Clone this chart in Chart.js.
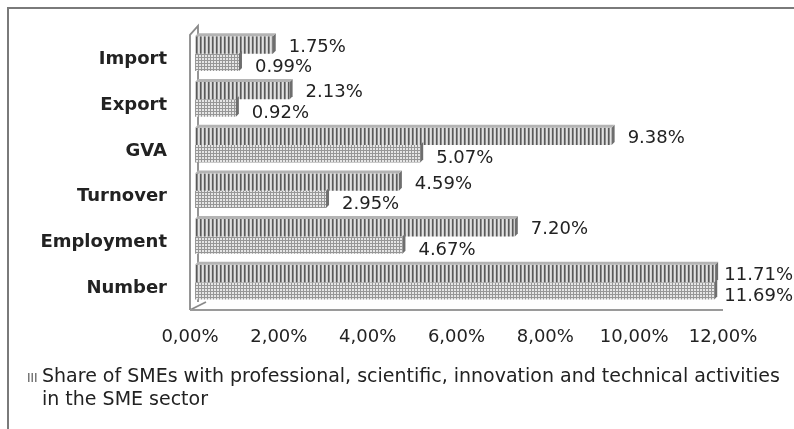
<!DOCTYPE html>
<html>
<head>
<meta charset="utf-8">
<script src="https://cdn.jsdelivr.net/npm/chart.js@4.4.1/dist/chart.umd.min.js"></script>
<style>
  html, body { margin: 0; padding: 0; background: #fff; }
</style>
</head>
<body>
<canvas id="sme" width="794" height="429"></canvas>
<script>
const categories = ['Import', 'Export', 'GVA', 'Turnover', 'Employment', 'Number'];
const shareTop = [1.75, 2.13, 9.38, 4.59, 7.20, 11.71];
const shareBottom = [0.99, 0.92, 5.07, 2.95, 4.67, 11.69];
const xTicks = [0, 2, 4, 6, 8, 10, 12];
const legendText = 'Share of SMEs with professional, scientific, innovation and technical activities in the SME sector';

const FONT = '"DejaVu Sans", "Liberation Sans", Arial, sans-serif';
const DEPTH = 3;

// striped / grid fills like the old excel 3d bars
function stripePattern() {
    const c = document.createElement('canvas');
    c.width = 4; c.height = 4;
    const g = c.getContext('2d');
    g.fillStyle = '#e2e2e2'; g.fillRect(0, 0, 4, 4);
    g.fillStyle = '#5a5a5a'; g.fillRect(0, 0, 1, 4);
    g.fillStyle = '#8c8c8c'; g.fillRect(1, 0, 1, 4);
    g.fillStyle = '#cfcfcf'; g.fillRect(3, 0, 1, 4);
    return g.createPattern(c, 'repeat');
}
function gridPattern() {
    const c = document.createElement('canvas');
    c.width = 3; c.height = 3;
    const g = c.getContext('2d');
    g.fillStyle = '#e6e6e6'; g.fillRect(0, 0, 3, 3);
    g.fillStyle = '#979797'; g.fillRect(0, 0, 3, 1); g.fillRect(0, 0, 1, 3);
    return g.createPattern(c, 'repeat');
}

const frame = {
    id: 'frame',
    beforeDraw(chart) {
        const ctx = chart.ctx;
        ctx.save();
        ctx.strokeStyle = '#7a7a7a';
        ctx.lineWidth = 2;
        ctx.strokeRect(8, 8, chart.width + 10, chart.height + 10);
        ctx.restore();
    },
    beforeDatasetsDraw(chart) {
        // left wall and floor of the 3d plot
        const a = chart.chartArea, ctx = chart.ctx;
        const fx = a.left - 5, bx = a.left + 3;
        const top = a.top + 4, floor = a.bottom + 5;
        ctx.save();
        ctx.strokeStyle = '#8a8a8a';
        ctx.lineWidth = 1.8;
        ctx.beginPath();
        ctx.moveTo(fx, floor); ctx.lineTo(fx, top);
        ctx.lineTo(bx, top - 9); ctx.lineTo(bx, floor - 8);
        ctx.moveTo(fx, floor); ctx.lineTo(bx + 8, floor - 8);
        ctx.stroke();
        ctx.strokeStyle = '#9a9a9a';
        ctx.lineWidth = 2;
        ctx.beginPath();
        ctx.moveTo(fx, floor); ctx.lineTo(a.right - 5, floor);
        ctx.stroke();
        ctx.restore();
    },
    afterDatasetsDraw(chart) {
        const ctx = chart.ctx;
        ctx.save();
        chart.data.datasets.forEach((ds, di) => {
            chart.getDatasetMeta(di).data.forEach((el, i) => {
                const p = el.getProps(['x', 'y', 'base', 'height'], true);
                const t = p.y - p.height / 2, b = p.y + p.height / 2;
                // right side face
                ctx.fillStyle = '#6e6e6e';
                ctx.beginPath();
                ctx.moveTo(p.x, t); ctx.lineTo(p.x + DEPTH, t - DEPTH);
                ctx.lineTo(p.x + DEPTH, b - DEPTH); ctx.lineTo(p.x, b);
                ctx.closePath(); ctx.fill();
                if (di === 0) {
                    ctx.fillStyle = '#b4b4b4';
                    ctx.beginPath();
                    ctx.moveTo(p.base, t); ctx.lineTo(p.base + DEPTH, t - DEPTH);
                    ctx.lineTo(p.x + DEPTH, t - DEPTH); ctx.lineTo(p.x, t);
                    ctx.closePath(); ctx.fill();
                }
                // value label
                const txt = ds.data[i].toFixed(2) + '%';
                ctx.font = '18px ' + FONT;
                ctx.fillStyle = '#222';
                ctx.textBaseline = 'middle';
                const tw = ctx.measureText(txt).width;
                const lx = Math.min(p.x + 16, chart.width - tw - 1);
                ctx.fillText(txt, lx, p.y + (di === 0 ? 2 : 5));
            });
        });
        ctx.restore();
    },
    afterDraw(chart) {
        // legend, wrapped onto two lines
        const ctx = chart.ctx;
        ctx.save();
        ctx.fillStyle = '#777';
        for (let k = 0; k < 3; k++) ctx.fillRect(28 + k * 3.5, 373, 1.5, 9);
        ctx.font = '19px ' + FONT;
        ctx.fillStyle = '#222';
        ctx.textBaseline = 'middle';
        const maxW = chart.width - 44;
        const words = legendText.split(' ');
        let line = '', y = 377;
        words.forEach(w => {
            const test = line ? line + ' ' + w : w;
            if (ctx.measureText(test).width > maxW && line) {
                ctx.fillText(line, 42, y);
                line = w; y += 23;
            } else {
                line = test;
            }
        });
        ctx.fillText(line, 42, y);
        ctx.restore();
    }
};

const ctx = document.getElementById('sme').getContext('2d');
const smeChart = new Chart(ctx, {
    type: 'bar',
    data: {
        labels: categories,
        datasets: [{
            label: legendText,
            data: shareTop,
            backgroundColor: stripePattern(),
            borderWidth: 0
        }, {
            label: '',
            data: shareBottom,
            backgroundColor: gridPattern(),
            borderWidth: 0
        }]
    },
    options: {
        indexAxis: 'y',
        responsive: false,
        animation: false,
        categoryPercentage: 0.76,
        barPercentage: 1,
        layout: {padding: {left: 0, right: 66, top: 26, bottom: 64}},
        plugins: {
            legend: {display: false},
            tooltip: {enabled: false}
        },
        scales: {
            x: {
                min: 0,
                max: 12,
                grid: {display: false},
                border: {display: false},
                afterBuildTicks: s => { s.ticks = xTicks.map(v => ({value: v})); },
                afterFit: s => { s.height = 60; },
                ticks: {
                    padding: 14,
                    labelOffset: -5,
                    maxRotation: 0,
                    color: '#222',
                    font: {family: FONT, size: 18},
                    callback: v => v.toFixed(2).replace('.', ',') + '%'
                }
            },
            y: {
                grid: {display: false},
                border: {display: false},
                afterFit: s => { s.width = 195; },
                ticks: {
                    padding: 20,
                    labelOffset: 6,
                    color: '#222',
                    font: {family: FONT, size: 18, weight: 'bold'}
                }
            }
        }
    },
    plugins: [frame]
});
</script>
</body>
</html>
